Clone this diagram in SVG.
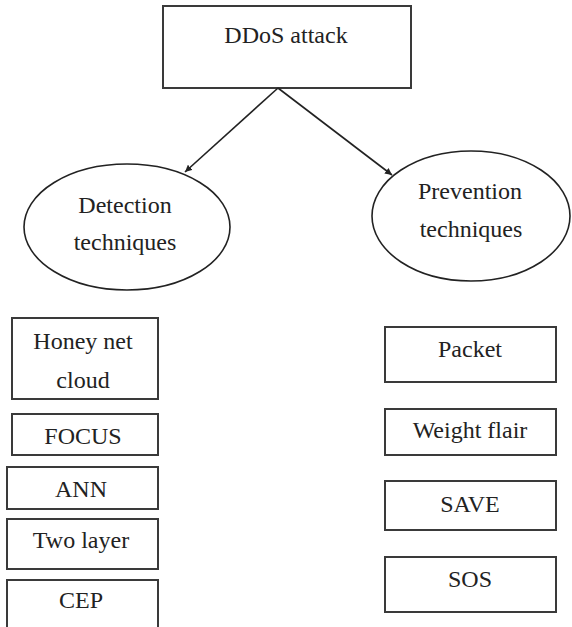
<svg xmlns="http://www.w3.org/2000/svg" width="572" height="627" viewBox="0 0 572 627">
<style>
.box{fill:#fff;stroke:#3a3a3a;stroke-width:2}
.ell{fill:#fff;stroke:#222;stroke-width:1.6}
.lbl{font-family:"Liberation Serif","Times New Roman",serif;font-size:24px;fill:#222;text-anchor:middle}
.edge{stroke:#222;stroke-width:1.6;fill:none}
</style>
<defs>
<marker id="arr" viewBox="0 0 10 10" refX="10" refY="5" markerWidth="7" markerHeight="7" orient="auto" markerUnits="userSpaceOnUse">
<path d="M0,0 L10,5 L0,10 z" fill="#222"/>
</marker>
</defs>
<rect width="572" height="627" fill="#fff"/>
<g id="ddos">
<rect class="box" x="163" y="6" width="248" height="82"/>
<text class="lbl" x="286" y="43">DDoS attack</text>
</g>
<g id="detection">
<ellipse class="ell" cx="127" cy="227" rx="103" ry="63"/>
<text class="lbl" x="125" y="213">Detection</text>
<text class="lbl" x="125" y="250">techniques</text>
</g>
<g id="prevention">
<ellipse class="ell" cx="471" cy="216" rx="99" ry="65"/>
<text class="lbl" x="470" y="199">Prevention</text>
<text class="lbl" x="471" y="237">techniques</text>
</g>
<g id="connectors">
<path class="edge" d="M278,88 L185,172" marker-end="url(#arr)"/>
<path class="edge" d="M278,88 L392,175" marker-end="url(#arr)"/>
</g>
<g id="honey">
<rect class="box" x="12" y="318" width="146" height="81"/>
<text class="lbl" x="83" y="349">Honey net</text>
<text class="lbl" x="83" y="388">cloud</text>
</g>
<g id="focus">
<rect class="box" x="12" y="414" width="146" height="41"/>
<text class="lbl" x="83" y="444">FOCUS</text>
</g>
<g id="ann">
<rect class="box" x="7" y="467" width="151" height="42"/>
<text class="lbl" x="81" y="497">ANN</text>
</g>
<g id="twolayer">
<rect class="box" x="7" y="519" width="151" height="50"/>
<text class="lbl" x="81" y="548">Two layer</text>
</g>
<g id="cep">
<rect class="box" x="7" y="580" width="151" height="60"/>
<text class="lbl" x="81" y="608">CEP</text>
</g>
<g id="packet">
<rect class="box" x="385" y="327" width="171" height="55"/>
<text class="lbl" x="470" y="357">Packet</text>
</g>
<g id="weightflair">
<rect class="box" x="385" y="409" width="171" height="46"/>
<text class="lbl" x="470" y="438">Weight flair</text>
</g>
<g id="save">
<rect class="box" x="385" y="481" width="171" height="49"/>
<text class="lbl" x="470" y="512">SAVE</text>
</g>
<g id="sos">
<rect class="box" x="385" y="557" width="171" height="55"/>
<text class="lbl" x="470" y="587">SOS</text>
</g>
</svg>
